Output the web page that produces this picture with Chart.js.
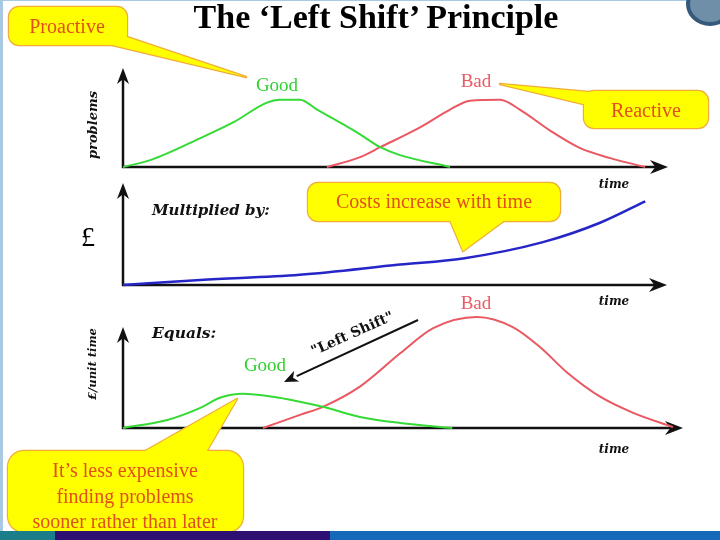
<!DOCTYPE html>
<html lang="en">
<head>
    <meta charset="UTF-8">
    <title>The 'Left Shift' Principle</title>
    <script src="https://cdn.jsdelivr.net/npm/chart.js"></script>
    <style>
        body { margin: 0; background: #fff; }
        #page { position: relative; width: 720px; height: 540px; overflow: hidden; background: #fff; }
        #page canvas, #page svg { position: absolute; left: 0; }
        .t { position: absolute; white-space: nowrap; transform: translate(-50%, -50%); line-height: 1; }
        .serif { font-family: "Liberation Serif", "Times New Roman", serif; }
        .bi { font-family: "DejaVu Serif", serif; font-weight: bold; font-style: italic; color: #111; }
        .call { font-family: "Liberation Serif", serif; font-size: 20px; color: #e24f1a; }
    </style>
</head>
<body>
<div id="page">
    <div style="position:absolute;left:0;top:0;width:720px;height:1px;background:#a8c8e4;"></div>
    <div style="position:absolute;left:0;top:0;width:3px;height:531px;background:#a8c8e4;"></div>
    <div style="position:absolute;left:686px;top:-18px;width:40px;height:36px;border-radius:50%;background:#6f8ea8;border:4px solid #34597a;"></div>

    <canvas id="c1" width="720" height="130" style="top:50px"></canvas>
    <canvas id="c2" width="720" height="125" style="top:175px"></canvas>
    <canvas id="c3" width="720" height="135" style="top:305px"></canvas>
    <svg id="notes" width="720" height="540" style="top:0"></svg>

    <div class="t serif" style="left:376px;top:17px;font-size:34px;font-weight:bold;">The ‘Left Shift’ Principle</div>

    <!-- panel 1 -->
    <div class="t bi" style="left:92px;top:125px;font-size:13px;transform:translate(-50%,-50%) rotate(-90deg);">problems</div>
    <div class="t serif" style="left:277px;top:84px;font-size:19px;color:#2fd22f;">Good</div>
    <div class="t serif" style="left:476px;top:80px;font-size:19px;color:#e85a64;">Bad</div>
    <div class="t bi" style="left:614px;top:184px;font-size:12px;">time</div>

    <!-- panel 2 -->
    <div class="t serif" style="left:88px;top:237px;font-size:28px;">£</div>
    <div class="t bi" style="left:152px;top:210px;font-size:15px;transform:translate(0,-50%);">Multiplied by:</div>
    <div class="t bi" style="left:614px;top:301px;font-size:12px;">time</div>

    <!-- panel 3 -->
    <div class="t bi" style="left:93px;top:364px;font-size:11.5px;transform:translate(-50%,-50%) rotate(-90deg);">£/unit time</div>
    <div class="t bi" style="left:152px;top:333px;font-size:15.5px;transform:translate(0,-50%);">Equals:</div>
    <div class="t serif" style="left:265px;top:364px;font-size:19px;color:#2fd22f;">Good</div>
    <div class="t serif" style="left:476px;top:302px;font-size:19px;color:#e85a64;">Bad</div>
    <div class="t" style="left:352px;top:333px;font-family:'DejaVu Serif',serif;font-weight:bold;font-size:14px;color:#111;transform:translate(-50%,-50%) rotate(-24deg);">"Left Shift"</div>
    <div class="t bi" style="left:614px;top:449px;font-size:12px;">time</div>

    <!-- callouts -->
    <div class="t call" style="left:67px;top:26px;">Proactive</div>
    <div class="t call" style="left:646px;top:110px;">Reactive</div>
    <div class="t call" style="left:434px;top:201px;">Costs increase with time</div>
    <div class="t call" style="left:125px;top:470px;">It’s less expensive</div>
    <div class="t call" style="left:125px;top:496px;">finding problems</div>
    <div class="t call" style="left:125px;top:521px;">sooner rather than later</div>

    <div style="position:absolute;left:0;top:531px;width:720px;height:9px;background:linear-gradient(to right,#1b7d8a 0 55px,#2e0f72 55px 330px,#1668b8 330px);"></div>
</div>

<script>
    // time runs 0..100 along each x axis, 100 = arrow tip of the axis
    // panel 1: problems found
    const goodFoundX = [0, 5, 14.1, 20.2, 26.4, 28.8, 32.5, 35.6, 38.5, 41.7, 43.5, 47.2, 50.8, 60];
    const goodFoundY = [0, 7, 29, 45, 65, 68, 68, 58, 49, 39, 33, 20, 12, 0];
    const badFoundX  = [37.4, 43.5, 47.2, 54.5, 60, 63.7, 69.2, 72.8, 78.3, 83.9, 89.4, 95.8];
    const badFoundY  = [0, 10, 20, 40, 58, 67, 68, 58, 37, 19, 9, 0];

    // panel 2: cost of fixing
    const costX = [0, 14.2, 32.5, 50.9, 62.5, 77.2, 87.7, 96];
    const costY = [0, 5, 10, 20, 26, 42, 61, 82];

    // panel 3: cost per unit time
    const goodCostX = [0, 7.9, 13.8, 17.3, 21.4, 26.8, 31.6, 35.7, 42.3, 49.5, 58.8];
    const goodCostY = [0, 8, 20, 30, 34, 31, 26, 21, 11, 5, 0];
    const badCostX  = [25, 31.6, 35.7, 42.3, 49.5, 55.4, 63.2, 69.6, 74.5, 79.3, 85.2, 91.1, 98.2];
    const badCostY  = [0, 13, 21, 41, 74, 99, 110, 100, 80, 55, 31, 15, 1];

    const GREEN = '#36da36';
    const RED = '#ea5862';
    const BLUE = '#2626c8';

    function pts(xs, ys) { return xs.map((x, i) => ({ x: x, y: ys[i] })); }

    function arrowHead(ctx, x, y, ang, len, half) {
        ctx.save();
        ctx.translate(x, y);
        ctx.rotate(ang);
        ctx.beginPath();
        ctx.moveTo(0, 0);
        ctx.lineTo(-len, -half);
        ctx.lineTo(-len * 0.7, 0);
        ctx.lineTo(-len, half);
        ctx.closePath();
        ctx.fill();
        ctx.restore();
    }

    // draws the two black axes with arrow heads at value 100
    const axisArrows = {
        id: 'axisArrows',
        beforeDatasetsDraw(chart) {
            const ctx = chart.ctx, x = chart.scales.x, y = chart.scales.y;
            const x0 = x.getPixelForValue(0), y0 = y.getPixelForValue(0);
            const xTip = x.getPixelForValue(100), yTip = y.getPixelForValue(100);
            ctx.save();
            ctx.strokeStyle = '#111';
            ctx.fillStyle = '#111';
            ctx.lineWidth = 2.5;
            ctx.beginPath();
            ctx.moveTo(x0, y0 + 1);
            ctx.lineTo(x0, yTip + 8);
            ctx.moveTo(x0 - 1, y0);
            ctx.lineTo(xTip - 10, y0);
            ctx.stroke();
            arrowHead(ctx, xTip, y0, 0, 18, 7);
            arrowHead(ctx, x0, yTip, -Math.PI / 2, 16, 6);
            ctx.restore();
        }
    };

    function line(data, color, width) {
        return {
            data: data,
            borderColor: color,
            borderWidth: width,
            pointRadius: 0,
            fill: false,
            cubicInterpolationMode: 'monotone',
            clip: false
        };
    }

    function makeChart(id, datasets, pad, yMax) {
        return new Chart(document.getElementById(id), {
            type: 'line',
            data: { datasets: datasets },
            options: {
                responsive: false,
                animation: false,
                devicePixelRatio: 1,
                layout: { padding: pad },
                scales: {
                    x: { type: 'linear', min: 0, max: 100, display: false },
                    y: { min: 0, max: yMax, display: false }
                },
                plugins: { legend: { display: false }, tooltip: { enabled: false } }
            },
            plugins: [axisArrows]
        });
    }

    makeChart('c1', [
        line(pts(goodFoundX, goodFoundY), GREEN, 2),
        line(pts(badFoundX, badFoundY), RED, 2)
    ], { left: 123, right: 52, top: 18, bottom: 13 }, 100);

    makeChart('c2', [
        line(pts(costX, costY), BLUE, 2.5)
    ], { left: 123, right: 53, top: 8, bottom: 15 }, 100);

    makeChart('c3', [
        line(pts(goodCostX, goodCostY), GREEN, 2),
        line(pts(badCostX, badCostY), RED, 2)
    ], { left: 123, right: 37, top: 10, bottom: 12 }, 112);

    // yellow speech-bubble callouts and the "left shift" arrow
    const callouts = [
        { box: [9, 7, 118, 38, 10],   tail: [[108, 44], [124, 36], [246, 77]] },
        { box: [584, 91, 124, 37, 10], tail: [[600, 93], [600, 108], [500, 84]] },
        { box: [308, 183, 252, 38, 10], tail: [[450, 220], [505, 220], [463, 251]] },
        { box: [8, 451, 235, 81, 16],  tail: [[140, 454], [205, 454], [237, 399]] }
    ];
    const svg = document.getElementById('notes');
    let shapes = '';
    callouts.forEach(c => {
        const b = c.box;
        shapes += `<rect x="${b[0]}" y="${b[1]}" width="${b[2]}" height="${b[3]}" rx="${b[4]}"/>`;
        shapes += `<polygon points="${c.tail.map(p => p.join(',')).join(' ')}"/>`;
    });
    const ax1 = 418, ay1 = 320, ax2 = 284, ay2 = 382;
    const ang = Math.atan2(ay2 - ay1, ax2 - ax1);
    const hx = ax2 - 14 * Math.cos(ang), hy = ay2 - 14 * Math.sin(ang);
    const px = -Math.sin(ang) * 6, py = Math.cos(ang) * 6;
    svg.innerHTML =
        `<g fill="#ffff00" stroke="#f0ad3a" stroke-width="2.4" stroke-linejoin="round">${shapes}</g>` +
        `<g fill="#ffff00">${shapes}</g>` +
        `<line x1="${ax1}" y1="${ay1}" x2="${hx}" y2="${hy}" stroke="#111" stroke-width="2"/>` +
        `<polygon fill="#111" points="${ax2},${ay2} ${hx + px},${hy + py} ${hx + 4 * Math.cos(ang)},${hy + 4 * Math.sin(ang)} ${hx - px},${hy - py}"/>`;
</script>
</body>
</html>
